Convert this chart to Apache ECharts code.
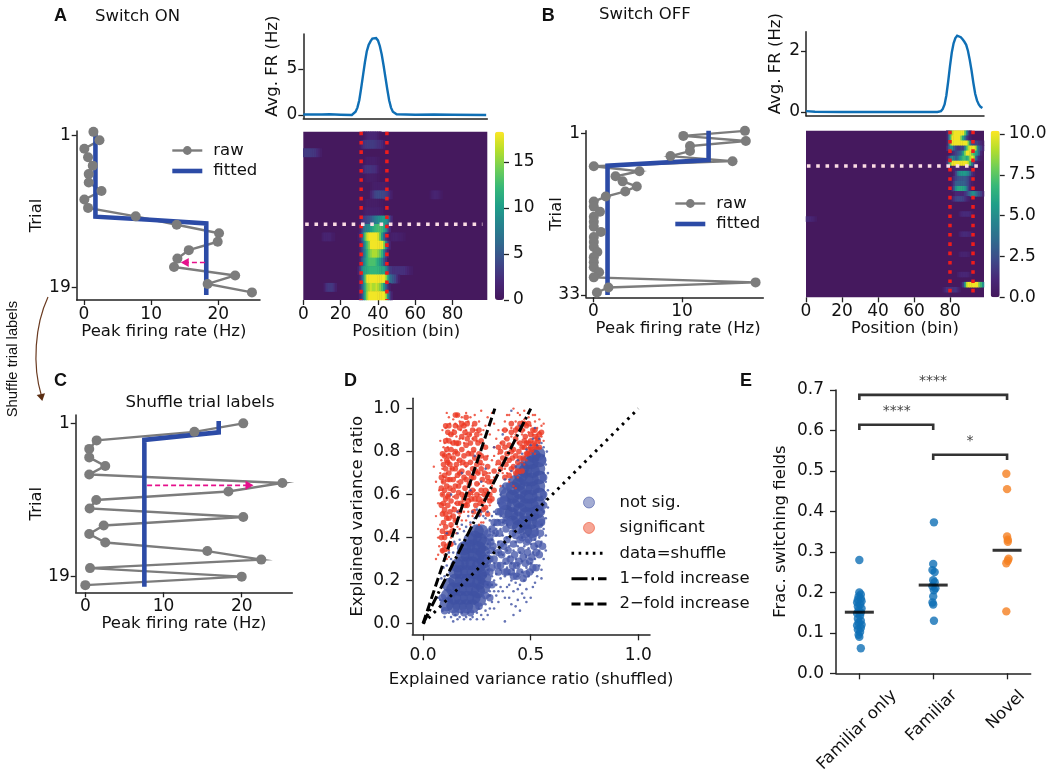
<!DOCTYPE html>
<html><head><meta charset="utf-8">
<style>html,body{margin:0;padding:0;background:#fff}#c{width:1050px;height:779px}</style>
<script src="https://cdn.jsdelivr.net/npm/echarts@6/dist/echarts.min.js"></script>
</head><body><div id="c"></div>
<script>
// ---------- data ----------
const rawA=[[1.4,.6],[2.3,1.6],[.05,2.6],[.6,3.6],[1.3,4.6],[.7,5.6],[.7,6.6],[2.6,7.6],[.05,8.6],[.6,9.6],[7.7,10.6],[13.8,11.6],[20.1,12.6],[19.9,13.6],[15.6,14.6],[13.9,15.6],[13.4,16.6],[22.5,17.6],[18.4,18.6],[25,19.6]];
const fitA=[[1.7,.5],[1.7,10.64],[9.8,11],[18.2,11.43],[18.2,19.9]];
const arrowA=[18,15,16.07];
const rawB=[[17.1,.5],[10.15,1.5],[17.2,2.5],[10.9,3.5],[10.9,4.5],[8.7,5.5],[15.7,6.5],[.05,7.5],[5.2,8.5],[2.5,9.5],[3.3,10.5],[4.9,11.5],[3.6,12.5],[1.4,13.5],[.05,14.5],[.05,15.5],[.75,16.5],[.05,17.5],[.05,18.5],[.05,19.5],[.85,20.5],[.05,21.5],[.05,22.5],[.05,23.5],[.45,24.5],[.05,25.5],[.05,26.5],[.05,27.5],[.65,28.5],[.05,29.5],[18.3,30.5],[1.7,31.5],[.4,32.5]];
const fitB=[[13,.47],[13,6.28],[1.6,7.4],[1.6,33]];
const rawC=[[20.2,1],[13.95,2],[1.45,3],[.5,4],[.5,5],[2.55,6],[.5,7],[25.2,8],[18.3,9],[1.4,10],[.55,11],[20.2,12],[2.35,13],[.5,14],[2.55,15],[15.6,16],[22.5,17],[.6,18],[20,19],[0,20]];
const fitC=[[17.06,.73],[17.06,2.06],[7.55,2.95],[7.55,20.18]];
const arrowC=[7.9,21,8.28];
const avgA=[[0,.05],[10,.05],[14,.08],[20,.03],[26,0],[27,.1],[28,.35],[29,.8],[30,1.6],[31,2.9],[32,4.3],[33,5.7],[34,6.9],[35,7.6],[36,8],[37,8.3],[38,8.4],[39,8.35],[40,8.1],[41,7.5],[42,6.6],[43,5.4],[44,4.1],[45,2.8],[46,1.6],[47,.8],[48,.35],[49,.15],[50,.08],[60,.03],[70,.05],[80,.02],[98,0]];
const avgB=[[0,.03],[5,.01],[20,0],[50,0],[73,0],[75,.03],[76,.1],[77,.25],[78,.55],[79,1],[80,1.5],[81,1.95],[82,2.25],[83,2.42],[84,2.5],[85,2.5],[86,2.45],[87,2.38],[88,2.3],[89,2.2],[90,2],[91,1.7],[92,1.35],[93,.95],[94,.6],[95,.38],[96,.25],[97,.17],[98,.13]];
// heat rows: [row, first bin, values]; bins not listed are at the background level
const heatRowsA=[[0,32,[.5,1,1.5,1.8,1.8,1.8,1.8,1.5,1,.5]],[1,30,[.5,1.5,2.5,3,3.2,3.2,3.2,3.2,3,2.8,2.5,2.5,2,1]],[2,0,[3,3.2,3.2,3.2,3,3,2.8,2.2,1.5,.8]],[3,33,[.6,1,1,1,1,1,.8,.6]],[4,31,[.5,1.5,2.5,2.8,2.8,2.8,2.5,2.5,2,1,.5]],[5,33,[.5,.8,.9,.9,.9,.8,.7,.5]],[6,36,[.5,.8,1,1,1,1,1,1,.8,.5]],[7,35,[.5,1.5,2.5,3.5,4,4.2,4.2,4,3.8,3.5,3,2,1]],[7,68,[.6,1.2,1.5,1.5,1.4,1,.6]],[8,33,[.5,.8,.8,.8,.8,.8,.8,.7,.6,.5]],[9,32,[.5,1,1.2,1.2,1.2,1.2,1.2,1.2,1.2,1,.8]],[10,30,[.5,2,3,3.5,4,4.5,5,6,7,8,9,9.5,10,10,9.5,8,5,2]],[11,30,[1,3,6,8,8.5,9,10,11,12,12.5,13,13,12.5,11,9,5,2]],[12,29,[.5,1.5,4,9,14,17,18,18,18,18,18,17,14,10,6,3,1.5,.8]],[12,10,[1,1.5,1.5,1.5,1.5,1,.7]],[12,47,[1,1.2,1.2,1.2,1,1,.8,.6]],[13,30,[1,3,6,10,13,15,18,18,18,18,18,18,18,15,9,4,1.5]],[14,30,[1,3,6,9,12,14,15,16,16,16,15,14,12,8,4,1.5]],[15,30,[1,4,7,10,12,13,13,13,13,12,11,10,8,5,2.5]],[16,29,[.8,3,7,10,11,11.5,12,12,12,12,12,12,11.5,11,11,9,6,3.5,3,2.5,2.5,2.5,2.5,2.5,2.5,2.5,2,1.5,1,.7]],[17,30,[1.5,4,9,14,18,18,18,18,18,18,18,18,18,18,16,12,8,6,5,4,2.5,1]],[18,30,[1.5,4,8,12,15,16,17,16,16,17,16,15,13,10,6,3,1]],[18,11,[1,2.5,3,3,3,2.5,1.2]],[19,30,[1.5,3,7,12,16,18,18,18,18,18,18,18,18,18,16,10,5,1.5]]];
const heatRowsB=[[0,78,[.5,3,7,9,10,10,10,10,10,10,8,5,2,.5]],[1,78,[.5,3,7,10,10,10,10,10,8,6,4,2,1,.5]],[2,78,[.5,3,8,10,10,10,10,10,10,10,10,10,8,4,2.5,2,2,2,1.5,1,.5]],[3,78,[1,3,5,5,3,2,1.5,1.5,2,2,4,7,9,10,10,10,9,5,3,2,1]],[4,80,[.5,1,1.5,2,2.5,3,4,6,8,10,10,9.5,8,7,6,5,3,1]],[5,78,[.5,2,4,5,4,3,3.5,5,6,7,7,6,7,9,10,9,4,2,1,.5]],[6,78,[1,4,8,10,10,10,10,10,10,10,10,10,9,7,4,2,1,.5]],[7,80,[.3,.6,.8,.8,.8,.8,.8,.8,.8,.8,.8,.6]],[8,82,[.8,2,4,5,5.5,5.5,5.5,5,4.5,3,1.5,.7]],[9,81,[.6,1.5,2,2.5,2.8,2.8,2.8,2.8,2.5,2,1.2,.6]],[10,81,[.8,2,3,3.2,3.2,3.2,3.2,3,2.5,2,1,.5]],[11,81,[1.2,3,5,6,6.2,6.2,6,5.5,4,2,1,.5]],[12,82,[.5,1,1,1,1,1,1.5,2,3,4,5,5,4,3,2.5,2,1]],[13,81,[.8,1.5,2,2.2,2.2,2.2,2,1.5,1,.6]],[16,85,[.5,1,1.2,1.2,1.2,1.2,1,.5]],[17,0,[1.2,1.2,1,.9,.7,.4]],[20,85,[.6,1,1.2,1.2,1.2,1,1,.6]],[24,85,[.5,.8,.8,.8,.8,.6]],[28,84,[.5,.8,1,1,1,1,.8,.5]],[30,86,[.6,2,5,9,10,10,10,10,10,10,8,7,5]],[31,76,[.5,1,1.5,1.5,1.5,1.5,1.5,1.5,1,.5]]];
const blueCore=[[.11,.09],[.115,.13],[.12,.18],[.14,.08],[.145,.12],[.14,.16],[.15,.20],[.15,.24],[.16,.27],[.17,.08],[.175,.12],[.17,.16],[.18,.20],[.175,.24],[.18,.28],[.185,.32],[.19,.35],[.20,.08],[.205,.12],[.20,.16],[.21,.20],[.205,.24],[.21,.28],[.205,.32],[.21,.36],[.22,.39],[.23,.08],[.235,.12],[.23,.16],[.24,.20],[.235,.24],[.23,.28],[.24,.32],[.235,.36],[.24,.40],[.25,.43],[.26,.11],[.255,.15],[.26,.19],[.265,.23],[.26,.27],[.265,.31],[.26,.35],[.265,.39],[.27,.43],[.28,.17],[.285,.21],[.28,.25],[.285,.29],[.28,.33],[.285,.37],
[.385,.52],[.38,.56],[.39,.60],[.415,.47],[.41,.51],[.42,.55],[.415,.59],[.42,.63],[.43,.66],[.445,.45],[.44,.49],[.45,.53],[.445,.57],[.45,.61],[.445,.65],[.455,.69],[.46,.72],[.475,.43],[.47,.47],[.48,.51],[.475,.55],[.48,.59],[.475,.63],[.48,.67],[.475,.71],[.485,.75],[.505,.43],[.50,.47],[.51,.51],[.505,.55],[.50,.59],[.51,.63],[.505,.67],[.51,.71],[.505,.75],[.515,.78],[.535,.48],[.53,.52],[.535,.56],[.54,.60],[.535,.64],[.54,.68],[.535,.72],[.54,.76],[.535,.79]];
const blueMid=[[.33,.30],[.325,.36],[.335,.42],[.33,.47],[.36,.27],[.365,.32],[.36,.37],[.355,.42],[.365,.47],[.39,.24],[.385,.29],[.395,.34],[.39,.39],[.385,.44],[.42,.22],[.415,.27],[.425,.32],[.42,.37],[.415,.42],[.45,.24],[.445,.29],[.455,.34],[.45,.39],[.48,.23],[.475,.28],[.485,.33],[.48,.38],[.51,.26],[.505,.31],[.515,.36],[.51,.40],[.54,.32],[.535,.37],[.545,.42],[.54,.46],[.30,.18],[.31,.12],[.30,.42],[.32,.26],[.35,.24],[.55,.52],[.56,.60],[.56,.68],[.555,.76],[.35,.52],[.36,.57],[.37,.62],[.10,.06],[.15,.05],[.19,.05],[.22,.05],[.26,.08],[.09,.12],[.29,.13],[.31,.30],[.315,.38],
[.37,.55],[.385,.48],[.36,.52],[.40,.47],[.43,.41],[.46,.40],[.49,.39],[.52,.42],[.55,.47],[.56,.55],[.40,.64],[.385,.64],[.375,.58],[.345,.47],[.35,.33],[.375,.36],[.405,.30],[.435,.27],[.465,.31],[.495,.29],[.525,.33],[.345,.27],[.38,.24],[.41,.24],[.435,.22],[.465,.21],[.495,.24],[.525,.26],[.555,.36],[.32,.18],[.31,.24],[.30,.30],[.32,.34],[.31,.40],[.32,.44]];
const blueFine=[[.31,.13],[.30,.18],[.32,.22],[.30,.25],[.33,.28],[.31,.31],[.33,.34],[.30,.37],[.32,.39],[.34,.41],[.31,.44],[.33,.46],[.35,.48],[.34,.51],[.36,.44],[.35,.38],[.37,.41],[.36,.35],[.38,.37],[.37,.32],[.39,.34],[.38,.28],[.40,.31],[.39,.26],[.41,.28],[.40,.23],[.42,.25],[.43,.30],[.44,.27],[.42,.34],[.45,.33],[.46,.29],[.47,.36],[.48,.31],[.49,.35],[.48,.26],[.50,.28],[.50,.37],[.51,.33],[.52,.39],[.52,.30],[.53,.36],[.53,.44],[.54,.40],[.54,.34],[.55,.46],[.55,.38],[.56,.52],[.56,.44],[.57,.58],[.57,.49],[.56,.62],[.57,.66],[.56,.70],[.57,.74],[.56,.78],[.55,.84],[.54,.86],[.56,.82],[.53,.83],[.36,.60],[.35,.56],[.37,.64],[.38,.67],[.40,.67],[.41,.71],[.43,.73],[.44,.76],[.46,.79],[.48,.81],[.50,.83],[.51,.86],
[.44,.22],[.46,.24],[.47,.20],[.49,.22],[.51,.24],[.45,.18],[.43,.19],[.41,.20],[.38,.22],[.36,.25],[.36,.21],[.34,.23],[.34,.18],[.33,.15],[.36,.17],[.39,.17],[.42,.15],[.46,.14],[.50,.12],[.52,.19],[.55,.25],[.56,.30],[.55,.21],[.48,.10],[.43,.08],[.42,.04],[.38,.01],[.38,.12],[.35,.10],[.33,.07],[.30,.04],[.29,.09],[.27,.04],[.26,.07],[.25,.02],[.25,.05],[.23,.03],[.21,.05],[.20,.03],[.18,.05],[.16,.02],[.15,.04],[.13,.03],[.12,.05],[.09,.06],[.08,.11],[.09,.17],[.10,.22],[.11,.27],[.13,.30],[.14,.33],[.15,.37],[.17,.39],[.19,.43],[.20,.45],[.22,.47],[.24,.49],[.26,.50],[.27,.52],[.29,.49],[.30,.52],[.31,.48],[.33,.52],[.33,.42],[.35,.33],[.39,.40],[.39,.46],[.37,.47],[.43,.38],[.42,.43],[.46,.40],[.46,.44],[.49,.41],[.49,.46],[.52,.45],[.52,.51],[.55,.53],[.55,.59],[.47,.42],[.44,.36],[.30,.28],[.29,.22],[.30,.33],[.29,.40],[.34,.44],[.40,.36],[.16,.52],[.22,.62],[.27,.66],[.33,.82],[.41,.99],[.24,.78],[.13,.60],[.29,.72],[.37,.88],[.45,.92],[.52,.91],[.11,.42],[.18,.70],
[.10,.03],[.14,.01],[.17,.03],[.19,.02],[.22,.02],[.28,.02],[.31,.07],[.32,.10],[.34,.13],[.37,.15],[.40,.12],[.41,.09],[.44,.11],[.45,.06],[.48,.16],[.51,.17],[.53,.22],[.54,.27],[.57,.34],[.57,.41],[.58,.54],[.58,.62],[.58,.70],[.575,.80],[.08,.08],[.07,.12],[.085,.21],[.095,.26],[.10,.30],[.12,.33],[.145,.38],[.16,.42],[.18,.46],[.21,.50],[.23,.52],[.25,.53],[.28,.50],[.32,.50],[.36,.50],[.38,.48],[.29,.06],[.31,.15],[.32,.18],[.33,.20],[.35,.15],[.40,.18],[.44,.16],[.47,.12]];
const redCore=[[.09,.34],[.095,.37],[.10,.40],[.09,.43],[.105,.45],[.095,.47],[.11,.49],[.09,.51],[.10,.53],[.115,.55],[.095,.56],[.105,.58],[.09,.60],[.12,.60],[.10,.62],[.11,.64],[.095,.66],[.115,.67],[.10,.69],[.12,.70],[.105,.72],[.095,.74],[.115,.75],[.10,.78],[.12,.78],[.11,.81],[.125,.52],[.13,.57],[.125,.63],[.13,.46],[.12,.42],[.125,.37],[.11,.36],[.14,.62],[.14,.67],[.135,.72],[.14,.77],[.13,.81],[.12,.85],[.105,.85],[.14,.84],[.15,.80],[.155,.74],[.16,.69],[.15,.64],[.165,.61],[.16,.56],[.145,.53],[.15,.48],[.17,.52],
[.175,.66],[.18,.71],[.17,.76],[.18,.81],[.165,.84],[.18,.87],[.19,.58],[.195,.63],[.19,.68],[.20,.74],[.19,.78],[.20,.83],[.195,.89],[.205,.55],[.21,.60],[.215,.65],[.21,.70],[.22,.75],[.21,.79],[.22,.84],[.215,.88],[.225,.58],[.23,.62],[.235,.68],[.23,.72],[.24,.77],[.235,.81],[.24,.86],[.245,.55],[.25,.60],[.25,.65],[.255,.70],[.25,.74],[.26,.79],[.255,.84],[.265,.56],[.27,.62],[.275,.67],[.27,.72],[.28,.57],[.29,.62],[.29,.54],[.30,.60],[.305,.66],[.31,.60],[.30,.51],[.26,.51],[.235,.52],
[.37,.77],[.385,.74],[.39,.79],[.40,.83],[.41,.72],[.415,.77],[.42,.81],[.43,.86],[.43,.70],[.44,.75],[.445,.80],[.45,.84],[.46,.71],[.465,.77],[.47,.82],[.475,.87],[.485,.79],[.49,.84],[.50,.88],[.505,.81],[.515,.84],[.52,.87],[.525,.82],[.535,.85],[.38,.68],[.40,.69],[.36,.72],[.35,.75],[.44,.91],[.48,.92],[.41,.89],[.46,.9],[.54,.88],[.33,.71],
[.085,.40],[.10,.345],[.11,.42],[.105,.51],[.085,.55],[.115,.59],[.085,.63],[.125,.67],[.085,.68],[.11,.76],[.09,.79],[.125,.74],[.13,.88],[.115,.89],[.145,.89],[.155,.84],[.16,.79],[.15,.72],[.17,.70],[.165,.64],[.18,.60],[.175,.56],[.155,.59],[.14,.50],[.135,.43],[.12,.49],[.13,.37],[.105,.92],[.12,.92],[.15,.92],[.17,.91],[.19,.92],[.205,.93],[.23,.90],[.25,.88],[.27,.85],[.29,.82],[.29,.77],[.30,.73],[.27,.78],[.285,.70],[.30,.68],[.32,.66],[.32,.58],[.33,.62],[.195,.55],[.22,.61],[.24,.58],[.20,.67],[.225,.68],[.245,.71],[.265,.75],[.225,.79],[.205,.86],[.185,.75],[.21,.57],[.26,.58],[.285,.60],[.28,.53],[.31,.57],[.16,.97],[.18,.93],[.24,.93],[.20,.96],[.26,.90],[.15,.97],
[.36,.80],[.38,.82],[.40,.76],[.42,.73],[.44,.71],[.45,.77],[.46,.82],[.47,.85],[.48,.84],[.49,.81],[.50,.85],[.51,.90],[.53,.86],[.55,.89],[.43,.90],[.45,.93],[.47,.93],[.49,.93],[.52,.90],[.39,.86],[.37,.84],[.35,.82],[.41,.80],[.43,.78],[.41,.93],[.38,.90],[.48,.79],[.50,.82],[.52,.83],[.54,.82]];
const redFine=[[.05,.73],[.06,.66],[.07,.32],[.06,.30],[.07,.40],[.06,.50],[.07,.56],[.075,.62],[.08,.70],[.085,.76],[.08,.85],[.09,.90],[.085,.34],[.08,.46],[.09,.52],[.09,.60],[.10,.30],[.10,.68],[.10,.78],[.10,.84],[.105,.91],[.11,.98],[.115,.74],[.115,.82],[.12,.88],[.125,.93],[.13,.77],[.13,.84],[.14,.90],[.14,.95],[.15,.80],[.155,.87],[.16,.92],[.16,.97],[.17,.86],[.175,.90],[.18,.96],[.185,.86],[.19,.93],[.20,.98],[.20,.90],[.21,.94],[.22,.88],[.23,.92],[.24,.97],[.25,.90],[.25,.85],[.26,.94],[.27,.99],[.27,.88],[.28,.83],[.29,.92],[.30,.96],[.31,.88],[.32,.98],[.33,.93],[.26,.78],[.28,.74],[.30,.78],[.29,.66],[.31,.70],[.32,.76],[.33,.82],[.34,.74],[.35,.79],[.36,.84],[.30,.62],[.32,.64],[.33,.68],[.35,.70],[.36,.74],[.37,.70],[.34,.86],[.37,.90],[.38,.94],[.40,.97],[.41,.91],[.42,1.0],[.43,.94],[.44,.90],[.45,.97],[.46,.94],[.47,.99],[.48,.93],[.49,.96],[.50,.92],[.51,.97],[.52,.94],[.53,.91],[.54,.95],[.55,.92],[.56,.93],[.55,.87],[.56,.85],[.54,.84],
[.12,.34],[.13,.40],[.14,.44],[.13,.50],[.14,.54],[.15,.48],[.16,.45],[.16,.52],[.17,.50],[.15,.56],[.18,.48],[.19,.52],[.20,.56],[.19,.60],[.21,.52],[.22,.57],[.23,.50],[.24,.53],[.25,.57],[.26,.60],[.27,.60],[.28,.64],[.29,.60],[.30,.58],[.31,.55],[.27,.47],[.20,.48],[.26,.46],[.28,.47],[.155,.42],[.13,.72],[.12,.79],[.14,.79],[.16,.76],[.165,.70],[.16,.66],[.175,.74],[.19,.84],[.21,.80],[.23,.86],[.24,.80],[.26,.70],[.27,.74],[.28,.69],[.36,.64],[.37,.75],[.38,.72],[.39,.70],[.40,.66],[.41,.68],[.42,.64],[.43,.63],[.44,.68],[.45,.70],[.46,.75],[.47,.74],[.48,.76],[.49,.79],[.50,.79],[.51,.80],[.52,.79],[.53,.82],[.38,.86],[.39,.90],[.41,.87],[.43,.88],[.44,.84],[.46,.88],[.47,.90],[.49,.89],[.51,.88],[.53,.88],[.09,.33],[.11,.30],[.12,.31],[.075,.36],[.07,.44],[.08,.56],[.09,.66],[.09,.72],[.095,.82],[.105,.80],[.11,.86],[.12,.96],[.135,.88],[.145,.85],[.17,.94],[.15,.93],[.22,.96],[.24,.90],[.28,.90],[.31,.93],[.33,.78],[.35,.90],[.39,.97],[.44,.98],[.47,.95],[.52,.97],[.54,.89],[.17,.44],[.22,.46],[.11,.34],[.18,.54],[.21,.58],[.10,.32],[.15,.68],[.24,.62],[.23,.60],[.3,.7],[.26,.65],[.2,.73],[.13,.45],[.14,.59],[.11,.7],[.12,.75],[.2,.88],[.16,.83]];
const lineIdentity=[[0,0],[1,1]];
const lineOneFold=[[0,0],[.5,1]];
const lineTwoFold=[[0,0],[.3333,1]];
const swarmFam0=[[0,.28],[.02,.062],[0,.2],[.02,.195],[-.01,.19],[.02,.185],[-.02,.182],[.03,.178],[-.03,.175],[.01,.17],[-.02,.165],[.03,.16],[-.01,.155],[.02,.15],[-.03,.148],[.01,.142],[-.02,.135],[.02,.13],[-.01,.125],[.03,.12],[-.03,.118],[.02,.112],[-.02,.108],[.01,.102],[-.01,.095],[.0,.09]];
const swarmFam1=[[.01,.373],[0,.27],[-.01,.255],[.02,.25],[.0,.23],[.02,.225],[-.01,.215],[.03,.21],[.01,.205],[0,.19],[-.01,.175],[0,.17],[.01,.13]];
const swarmNovel=[[-.01,.493],[0,.455],[0,.338],[.01,.33],[.01,.325],[.02,.283],[.01,.278],[-.01,.272],[-.01,.153]];
const meansE=[[0,.151],[1,.218],[2,.304]];
const bracketTop=[[0,.675],[0,.688],[2,.688],[2,.675]];
const bracketLeft=[[0,.601],[0,.614],[1,.614],[1,.601]];
const bracketRight=[[1,.527],[1,.54],[2,.54],[2,.527]];
const categoriesE=['Familiar only','Familiar','Novel'];
const ticksPeakAC=[0,10,20], ticksPeakB=[0,10], ticksBins=[0,20,40,60,80];
const ticksTrialA=[1,19], ticksTrialB=[1,33];
const ticksCbarA=[0,5,10,15], ticksCbarB=[0,2.5,5,7.5,10];
const ticksAvgA=[0,5], ticksAvgB=[0,2];
const ticksDX=[0,.5,1], ticksDY=[0,.2,.4,.6,.8,1], ticksEY=[0,.1,.2,.3,.4,.5,.6,.7], ticksEX=[0,1,2];

// ---------- styling ----------
const FONT='"DejaVu Sans"', FS=16.5, TICKFS=17, INK='#111';
const VIRIDIS=['#44175c','#482878','#3e4989','#31688e','#26828e','#1f9e89','#35b779','#6ece58','#b5de2b','#fde725'];
const BLUE='#2c4ba6', GREY='#7c7c7c', CURVE='#0f6fb5', ORANGE='#f57f20', TAB='#0f6fb5', PINK='#e6108c', RED='#ee1c1c', WHITE='#fbdde4', SBLUE='#3f51a3', SRED='#ec3a24';
const grids=[],xAxes=[],yAxes=[],series=[];
function axisBase(o){
  const ticks=o.ticks;
  return {type:'value',min:o.min,max:o.max,inverse:!!o.inverse,position:o.position,show:o.show!==false,
    splitLine:{show:false},scale:false,
    axisLine:{show:o.line!==false,onZero:false,lineStyle:{color:'#222',width:1.5}},
    axisTick:{show:!!ticks,length:o.tick||5,customValues:ticks||[],lineStyle:{color:'#222',width:1.3}},
    axisLabel:{show:!!ticks&&!o.noLabels,customValues:ticks||[],margin:o.margin||6,fontFamily:FONT,fontSize:TICKFS,color:INK,formatter:o.fmt||(v=>String(v)),hideOverlap:false},
    name:o.name||'',nameLocation:'middle',nameGap:o.nameGap||23,nameMoveOverlap:false,
    nameTextStyle:{fontFamily:FONT,fontSize:FS,color:INK,padding:o.namePad||0}};
}
function grid(left,top,w,h,x,y){
  grids.push({left,top,width:w,height:h,containLabel:false});
  const i=grids.length-1;
  xAxes.push(Object.assign(axisBase(x),{gridIndex:i}));
  yAxes.push(Object.assign(axisBase(y),{gridIndex:i}));
  return i;
}
function trace(i,name,data,color,width,extra){
  series.push(Object.assign({type:'line',name,data,xAxisIndex:i,yAxisIndex:i,clip:false,silent:true,showSymbol:false,symbol:'none',
    lineStyle:{color,width,cap:'butt',join:'miter'},itemStyle:{color},animation:false},extra||{}));
}
function panelTrial(i,raw,fit,arrow){
  trace(i,'raw',raw,GREY,2.4,{symbol:'circle',showSymbol:true,symbolSize:10});
  trace(i,'fitted',fit,BLUE,4.6);
  if(arrow) trace(i,'switch shift',[[arrow[0],arrow[2]],[arrow[1],arrow[2]]],PINK,1.6,{lineStyle:{color:PINK,width:1.6,type:[5,3]},
    markPoint:{silent:true,symbol:'triangle',symbolSize:[9,8],symbolRotate:arrow[1]>arrow[0]?-90:90,itemStyle:{color:PINK},label:{show:false},data:[{coord:[arrow[1],arrow[2]]}],animation:false}});
}
const visual=[];
function heat(left,top,w,h,rows,nRows,vmax,bins,xmax,dots,whiteRow,whiteSpan,cbLeft,cbTicks,cbFmt,xNamePad){
  grids.push({left,top,width:w,height:h,show:true,backgroundColor:'#45195e',borderWidth:0});
  const g=grids.length-1;
  const binNames=Array.from({length:bins},(_,k)=>String(k));
  const rowNames=Array.from({length:nRows},(_,k)=>String(k));
  xAxes.push({type:'category',gridIndex:g,data:binNames,show:false});
  yAxes.push({type:'category',gridIndex:g,data:rowNames,inverse:true,show:false});
  const data=[];
  rows.forEach(([r,s,vals])=>vals.forEach((v,k)=>data.push([s+k,r,v])));
  series.push({type:'heatmap',data,xAxisIndex:g,yAxisIndex:g,silent:true,animation:false,progressive:0,emphasis:{disabled:true}});
  const si=series.length-1;
  visual.push({type:'continuous',seriesIndex:si,min:0,max:vmax,dimension:2,inRange:{color:VIRIDIS},left:cbLeft,top,itemWidth:9,itemHeight:h,calculable:false,hoverLink:false,padding:0,text:null,show:true,silent:true});
  const o=grid(left,top,w,h,{min:0,max:xmax,ticks:ticksBins,line:false,name:'Position (bin)',namePad:xNamePad},{min:0,max:nRows,inverse:true,show:false});
  const dot={color:RED,width:3.5,type:[3.6,5.7]};
  dots.forEach(d=>trace(o,'field edge',[[d,0],[d,nRows]],RED,3.5,{lineStyle:dot,z:5}));
  trace(o,'switch trial',[[whiteSpan[0],whiteRow],[whiteSpan[1],whiteRow]],WHITE,3.5,{lineStyle:{color:WHITE,width:3.5,type:[3.6,5.7]},z:6});
  grid(cbLeft,top,9,h,{min:0,max:1,show:false},{min:0,max:vmax,position:'right',ticks:cbTicks,line:false,fmt:cbFmt,margin:9});
}
// A
const a0=grid(76.7,131,183.3,169,{min:-1.09,max:26.2,ticks:ticksPeakAC,name:'Peak firing rate (Hz)',namePad:[0,9,0,0]},{min:.5,max:20.5,inverse:true,ticks:ticksTrialA,name:'Trial',nameGap:31});
panelTrial(a0,rawA,fitA,arrowA);
const a1=grid(303.3,34,184,84.3,{min:0,max:98.6},{min:-.36,max:8.8,ticks:ticksAvgA,name:'Avg. FR (Hz)',nameGap:22,namePad:[0,0,0,20]});
trace(a1,'avg A',avgA,CURVE,2.4);
heat(303.3,131.7,184,168.3,heatRowsA,20,18.3,99,98.6,[31,44.8],11,[1,96],495,ticksCbarA,v=>String(v),[0,0,0,22]);
// B
const b0=grid(586,130.7,177.3,166.6,{min:-.83,max:19.17,ticks:ticksPeakB,name:'Peak firing rate (Hz)',namePad:[0,0,0,7]},{min:.47,max:33.45,inverse:true,ticks:ticksTrialB,name:'Trial',nameGap:21});
panelTrial(b0,rawB,fitB,null);
const b1=grid(806,31.7,178,84,{min:0,max:98.9},{min:-.12,max:2.63,ticks:ticksAvgB,name:'Avg. FR (Hz)',nameGap:22,namePad:[0,0,0,20]});
trace(b1,'avg B',avgB,CURVE,2.4);
heat(806,130.7,178,166.6,heatRowsB,33,10.2,99,98.9,[80,92.8],7,[.5,98],990.7,ticksCbarB,v=>v.toFixed(1),[0,0,0,20]);
// C
const c0=grid(75.7,415,216.6,177.3,{min:-1.23,max:26.47,ticks:ticksPeakAC,name:'Peak firing rate (Hz)'},{min:.02,max:20.84,inverse:true,ticks:ticksTrialA,name:'Trial',nameGap:30});
panelTrial(c0,rawC,fitC,arrowC);
// D
const d0=grid(412.3,398.3,237.7,236,{min:-.05,max:1.054,ticks:ticksDX,fmt:v=>v.toFixed(1),margin:13,tick:6,name:'Explained variance ratio (shuffled)',nameGap:37},{min:-.05,max:1.048,ticks:ticksDY,fmt:v=>v.toFixed(1),margin:12,tick:6,name:'Explained variance ratio',nameGap:46});
const pts=(name,data,color,size,extra)=>series.push(Object.assign({type:'scatter',name,data,xAxisIndex:d0,yAxisIndex:d0,symbol:'circle',symbolSize:size,itemStyle:{color},silent:true,animation:false,clip:false,large:false},extra||{}));
pts('not sig.',blueCore,SBLUE,14);
pts('not sig.',blueMid,'#4a5bab',7.5);
pts('significant',redCore,SRED,5.6);
pts('significant',redFine,SRED,2.4);
pts('not sig.',blueFine,SBLUE,2.6);
trace(d0,'data=shuffle',lineIdentity,'#000',3,{lineStyle:{color:'#000',width:3,type:[2.6,5]}});
trace(d0,'1\u2212fold increase',lineOneFold,'#000',3,{lineStyle:{color:'#000',width:3,type:[11,3,2.5,3]}});
trace(d0,'2\u2212fold increase',lineTwoFold,'#000',3,{lineStyle:{color:'#000',width:3,type:[9,4]}});
// E
const e0=grid(836,390,194.7,283.3,{min:-.316,max:2.32,ticks:ticksEX,noLabels:true,tick:6},{min:0,max:.7,ticks:ticksEY,tick:6,margin:12,fmt:v=>v.toFixed(1),name:'Frac. switching fields',nameGap:47});
const swarm=(name,center,arr,color)=>series.push({type:'scatter',name,xAxisIndex:e0,yAxisIndex:e0,data:arr.map(([d,v])=>[center+d,v]),symbol:'circle',symbolSize:8.4,itemStyle:{color},silent:true,animation:false});
swarm('Familiar only',0,swarmFam0,TAB);swarm('Familiar',1,swarmFam1,TAB);swarm('Novel',2,swarmNovel,ORANGE);
series.push({type:'scatter',name:'mean',xAxisIndex:e0,yAxisIndex:e0,data:meansE,symbol:'rect',symbolSize:[29,3],itemStyle:{color:'#000'},silent:true,animation:false,z:4});
[bracketTop,bracketLeft,bracketRight].forEach((b,k)=>trace(e0,'bracket'+k,b,'#333',2.6));

const legendFont={fontFamily:FONT,fontSize:FS,color:INK};
const noMark={itemStyle:{opacity:0}};
const legendRF=(left,top)=>({left,top,orient:'vertical',itemWidth:30,itemHeight:11,itemGap:3.5,padding:0,selectedMode:false,textStyle:Object.assign({padding:[0,0,0,6]},legendFont),
  data:[{name:'raw',lineStyle:{width:2.4,color:GREY}},Object.assign({name:'fitted',lineStyle:{width:4.6,color:BLUE}},noMark)]});
const legendD={left:570,top:494,orient:'vertical',itemWidth:35,itemHeight:11,itemGap:8.4,padding:0,selectedMode:false,textStyle:Object.assign({padding:[0,0,0,8]},legendFont),
  data:[{name:'not sig.',icon:'circle',itemStyle:{color:'rgba(63,81,163,.6)',borderColor:'rgba(63,81,163,.7)',borderWidth:1}},
        {name:'significant',icon:'circle',itemStyle:{color:'rgba(236,70,36,.6)',borderColor:'rgba(236,70,36,.7)',borderWidth:1}},
        Object.assign({name:'data=shuffle',lineStyle:{color:'#000',width:3,type:[2.6,4.5]}},noMark),
        Object.assign({name:'1\u2212fold increase',lineStyle:{color:'#000',width:3,type:[16,4,2.5,4]}},noMark),
        Object.assign({name:'2\u2212fold increase',lineStyle:{color:'#000',width:3,type:[9,4]}},noMark)]};

const T=(text,x,y,font,fill)=>({type:'text',x,y,silent:true,z:100,style:{text,font,fill:fill||INK,textAlign:'left',textVerticalAlign:'middle'}});
const reg=FS+'px '+FONT, letter='bold 18px "Liberation Sans"';
const centered=(text,x,y,font,fill)=>({type:'text',x,y,silent:true,z:100,style:{text,font,fill:fill||INK,textAlign:'center',textVerticalAlign:'middle'}});
const diag=(text,x,y)=>({type:'text',x,y,rotation:Math.PI/4,silent:true,z:100,style:{text,font:reg,fill:INK,textAlign:'center',textVerticalAlign:'middle'}});
const graphic=[
 T('A',54,16,letter),T('B',541.7,16,letter),T('C',54,381.5,letter),T('D',344,381.5,letter),T('E',740,381.5,letter),
 T('Switch ON',95,17,reg),T('Switch OFF',599,15,reg),
 centered('Shuffle trial labels',200,402.7,reg),
 {type:'text',x:13,y:359,rotation:Math.PI/2,silent:true,style:{text:'Shuffle trial labels',font:'14.8px "Liberation Sans"',fill:INK,textAlign:'center',textVerticalAlign:'middle'}},
 {type:'bezierCurve',silent:true,shape:{x1:48,y1:297,cpx1:35,cpy1:325,cpx2:32,cpy2:365,x2:41.5,y2:396},style:{stroke:'#6a3a20',lineWidth:1.2,fill:'none'}},
 {type:'polygon',silent:true,shape:{points:[[42.3,401],[36.7,395],[45,393.3]]},style:{fill:'#5a2d12'}},
 centered('****',933,381.5,'14px '+FONT,'#444'),centered('****',896.7,411.5,'14px '+FONT,'#444'),centered('*',970,441.5,'14px '+FONT,'#444'),
 diag(categoriesE[0],857,730),diag(categoriesE[1],931.7,715.7),diag(categoriesE[2],1005.7,710)
];
const chart=echarts.init(document.getElementById('c'),null,{renderer:'canvas'});
chart.setOption({animation:false,backgroundColor:'#fff',tooltip:{show:false},grid:grids,xAxis:xAxes,yAxis:yAxes,series,visualMap:visual,
  legend:[legendRF(170,142),legendRF(673,195),legendD],graphic});
</script></body></html>
